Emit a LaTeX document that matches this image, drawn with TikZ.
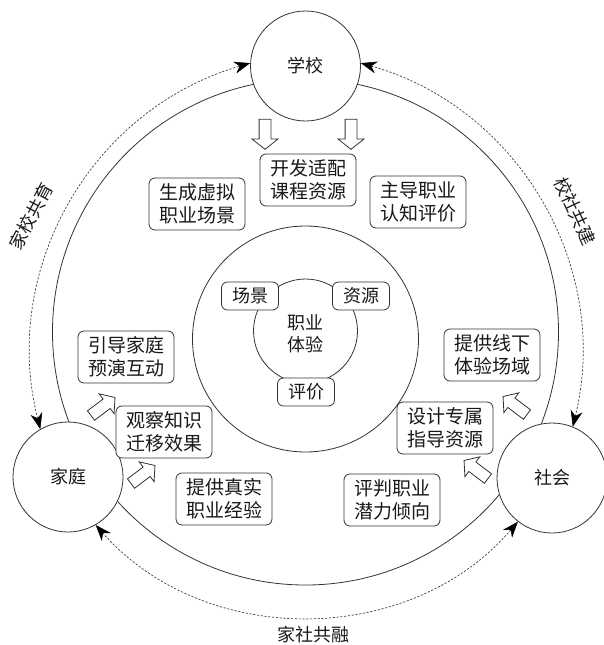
\documentclass[tikz,border=0pt]{standalone}
\usepackage{fontspec}
\newfontfamily\cjk{Noto Sans CJK SC}
\usetikzlibrary{arrows.meta,shapes.arrows}
\begin{document}
\begin{tikzpicture}[x=1pt,y=-1pt,
  ringline/.style={circle, draw=black!80, line width=0.8pt, inner sep=0pt},
  box/.style={draw=black!80, line width=0.8pt, rounded corners=6pt, fill=white, minimum width=96pt, minimum height=52pt, align=center, font=\cjk\fontsize{19}{23}\selectfont, inner sep=0pt, text=black!90},
  tag/.style={draw=black!80, line width=0.8pt, rounded corners=6pt, fill=white, minimum width=57pt, minimum height=28pt, font=\cjk\fontsize{18}{22}\selectfont, inner sep=0pt, text=black!90},
  hub/.style={circle, draw=black!80, line width=0.8pt, fill=white, minimum size=110pt, inner sep=0pt, font=\cjk\fontsize{18}{20}\selectfont, text=black!90},
  link/.style={draw=black!75, line width=0.7pt, dash pattern=on 2.2pt off 1.6pt, {Stealth[length=16pt,width=12pt,inset=5pt,color=black,fill=black,line width=0.5pt]}-{Stealth[length=16pt,width=12pt,inset=5pt,color=black,fill=black,line width=0.5pt]}},
  barrow/.style={single arrow, draw=black!80, line width=0.8pt, fill=white, inner sep=5.5pt, minimum height=30pt, single arrow head extend=7pt, single arrow tip angle=103},
  sarrow/.style={single arrow, draw=black!80, line width=0.8pt, fill=white, inner sep=5.5pt, minimum height=30pt, single arrow head extend=6.5pt, single arrow tip angle=100},
  lab/.style={font=\cjk\fontsize{18}{20}\selectfont, text=black!90}
]
\useasboundingbox (0,0) rectangle (603,645);
% rings
\node[ringline, minimum size=506pt] (ring) at (305.5,332) {};
\node[ringline, minimum size=226pt] (mid) at (305.5,339) {};
\node[ringline, minimum size=104pt] (core) at (305.5,331) {};
\node[lab, align=center, font=\cjk\fontsize{18}{22}\selectfont] (exp) at (305.5,334) {职业\\体验};
\node[tag] (t1) at (250,296) {场景};
\node[tag] (t2) at (361,296) {资源};
\node[tag] (t3) at (306,392) {评价};
% hubs
\node[hub] (sch) at (305.5,66) {学校};
\node[hub] (fam) at (68,477) {家庭};
\node[hub] (soc) at (552,478) {社会};
% boxes
\node[box] (b1) at (308,180) {开发适配\\课程资源};
\node[box] (b2) at (197,204) {生成虚拟\\职业场景};
\node[box] (b3) at (418,202) {主导职业\\认知评价};
\node[box] (b4) at (126,357) {引导家庭\\预演互动};
\node[box] (b5) at (164,432) {观察知识\\迁移效果};
\node[box] (b6) at (224,499) {提供真实\\职业经验};
\node[box] (b7) at (492,355) {提供线下\\体验场域};
\node[box] (b8) at (445,428) {设计专属\\指导资源};
\node[box] (b9) at (392,500) {评判职业\\潜力倾向};
% block arrows
\node[barrow, rotate=-90] (a1) at (265,132) {};
\node[barrow, rotate=-90] (a2) at (351,132) {};
\node[sarrow, rotate=37] (a3) at (101,408) {};
\node[sarrow, rotate=37] (a4) at (141,476) {};
\node[sarrow, rotate=143] (a5) at (517,407) {};
\node[sarrow, rotate=143] (a6) at (478,471) {};
% dashed links
\draw[link] (fam.120) to[bend left=44] (sch.177);
\draw[link] (sch.3) to[bend left=44] (soc.68);
\draw[link] (soc.-128) to[bend left=49] (fam.-60);
% labels
\node[lab, rotate=62] (l1) at (31,216) {家校共育};
\node[lab, rotate=-65] (l2) at (575,211) {校社共建};
\node[lab] (l3) at (313,635) {家社共融};
\end{tikzpicture}
\end{document}
